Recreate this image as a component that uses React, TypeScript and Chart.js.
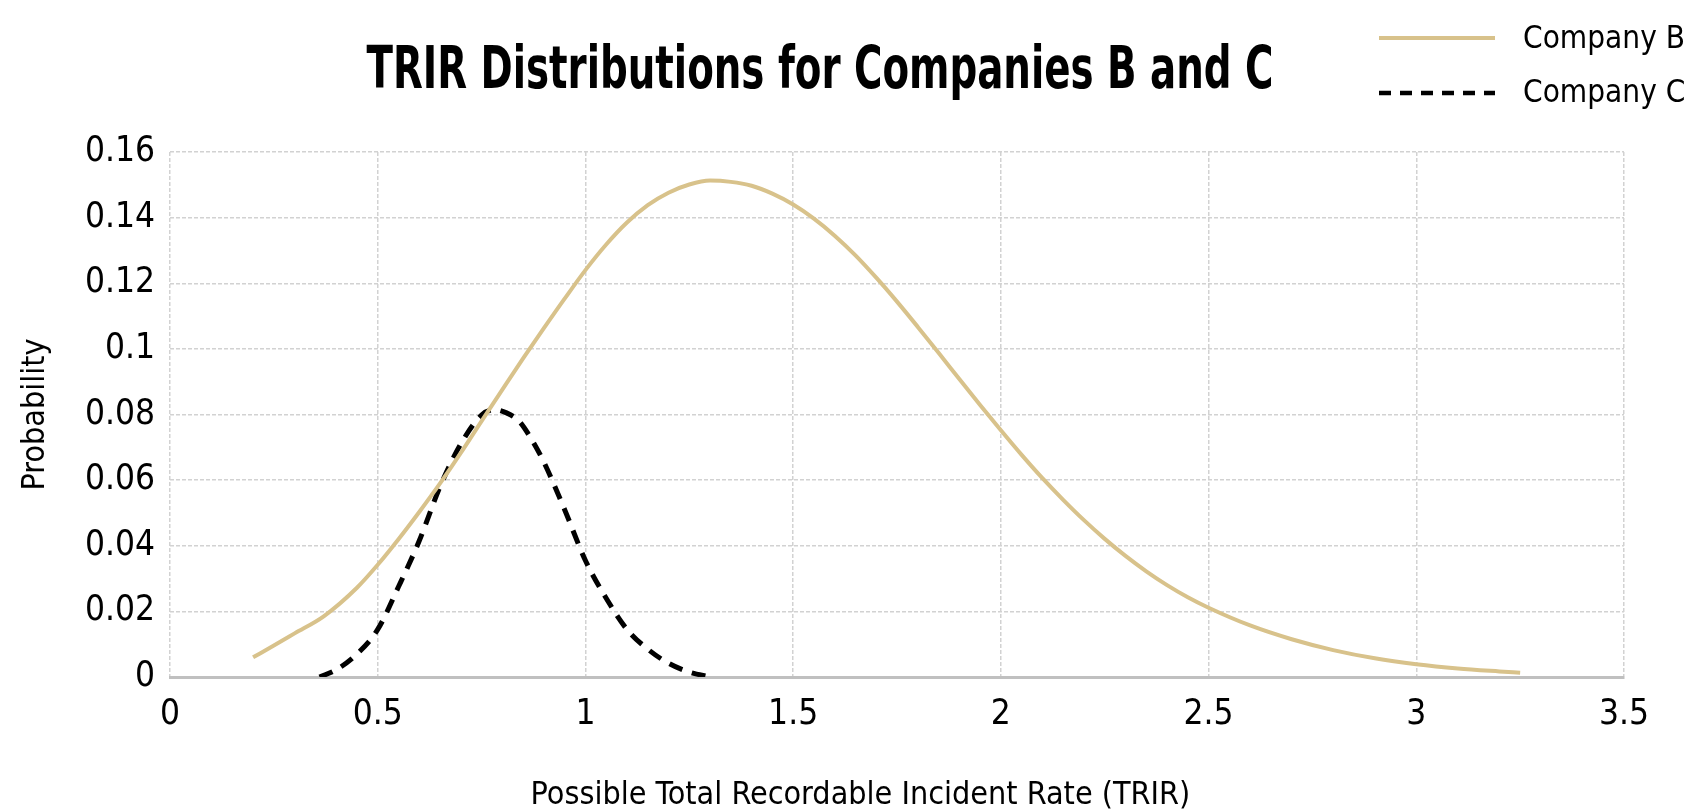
import React, { useEffect, useRef } from "react";
import { Chart, registerables } from "chart.js";

Chart.register(...registerables);

// ---- Data ----
const companyBX = [0.2, 0.25, 0.3, 0.37, 0.45, 0.5, 0.55, 0.6, 0.65, 0.7, 0.75, 0.8, 0.85, 0.9, 0.95, 1.0, 1.05, 1.1, 1.15, 1.2, 1.25, 1.3, 1.35, 1.4, 1.45, 1.5, 1.55, 1.6, 1.65, 1.7, 1.75, 1.8, 1.85, 1.9, 1.95, 2.0, 2.05, 2.1, 2.15, 2.2, 2.25, 2.3, 2.35, 2.4, 2.45, 2.5, 2.6, 2.7, 2.8, 2.9, 3.0, 3.1, 3.2, 3.25];
const companyBY = [0.006, 0.0096, 0.0133, 0.0185, 0.0272, 0.0342, 0.042, 0.0503, 0.059, 0.0683, 0.078, 0.0876, 0.0971, 0.1063, 0.1153, 0.124, 0.1318, 0.1385, 0.1438, 0.1476, 0.1501, 0.1513, 0.1509, 0.1497, 0.1473, 0.144, 0.1397, 0.1345, 0.1285, 0.1217, 0.1144, 0.1067, 0.0988, 0.0908, 0.0829, 0.0752, 0.0677, 0.0606, 0.054, 0.0478, 0.0421, 0.0369, 0.0322, 0.028, 0.0243, 0.0211, 0.0157, 0.0115, 0.0082, 0.0057, 0.0039, 0.0026, 0.0017, 0.0013];

const companyCX = [0.36, 0.4, 0.45, 0.5, 0.55, 0.6, 0.65, 0.7, 0.75, 0.78, 0.81, 0.84, 0.87, 0.9, 0.95, 1.0, 1.05, 1.1, 1.15, 1.2, 1.25, 1.3];
const companyCY = [0.0, 0.0022, 0.007, 0.0145, 0.0275, 0.0415, 0.058, 0.071, 0.0798, 0.0815, 0.0805, 0.078, 0.0725, 0.0655, 0.051, 0.0355, 0.024, 0.0145, 0.0085, 0.0042, 0.0015, 0.0];

const seriesLabels = ["Company B", "Company C"];
const xTickLabels = ["0", "0.5", "1", "1.5", "2", "2.5", "3", "3.5"];
const yTickLabels = ["0", "0.02", "0.04", "0.06", "0.08", "0.1", "0.12", "0.14", "0.16"];

const titleText = "TRIR Distributions for Companies B and C";
const xTitleText = "Possible Total Recordable Incident Rate (TRIR)";
const yTitleText = "Probability";

const FONT = "'Liberation Sans Narrow', 'DejaVu Sans Condensed', 'Roboto Condensed', 'Arial Narrow', sans-serif";
const TAN = "#D8C28B";
const GRID = "#d2d2d2";

// Title and corner legend drawn as canvas text
const textPlugin = {
  id: "titleAndLegend",
  afterDraw(chart: any) {
    const ctx = chart.ctx as CanvasRenderingContext2D;
    // title
    ctx.save();
    ctx.fillStyle = "#000";
    ctx.font = `bold 58px ${FONT}`;
    ctx.textAlign = "center";
    ctx.textBaseline = "alphabetic";
    ctx.fillText(titleText, 820, 88, 907);
    ctx.restore();

    // legend
    const lineY = [38, 93];
    const textY = [48, 101.5];
    const x0 = 1379;
    const x1 = 1495;
    const tx = 1523;
    ctx.save();
    ctx.font = `32px ${FONT}`;
    const refW = ctx.measureText(seriesLabels[0]).width;
    const sx = Math.min(1, 162 / refW);
    ctx.restore();
    chart.data.datasets.forEach((ds: any, i: number) => {
      ctx.save();
      ctx.strokeStyle = ds.borderColor;
      ctx.lineWidth = ds.borderDash ? 4.5 : 4;
      ctx.setLineDash(ds.borderDash ? [12, 9] : []);
      ctx.beginPath();
      ctx.moveTo(x0, lineY[i]);
      ctx.lineTo(x1, lineY[i]);
      ctx.stroke();
      ctx.restore();
      ctx.save();
      ctx.fillStyle = "#000";
      ctx.font = `32px ${FONT}`;
      ctx.textBaseline = "alphabetic";
      ctx.textAlign = "left";
      const w = ctx.measureText(ds.label).width * sx;
      ctx.fillText(ds.label, tx, textY[i], w);
      ctx.restore();
    });
  },
};

export default function App() {
  const canvasRef = useRef<HTMLCanvasElement | null>(null);

  useEffect(() => {
    if (!canvasRef.current) return;
    Chart.defaults.color = "#000";
    Chart.defaults.font.family = FONT;

    const chart = new Chart(canvasRef.current, {
      type: "line",
      data: {
        datasets: [
          {
            label: seriesLabels[0],
            data: companyBX.map((x, i) => ({ x, y: companyBY[i] })),
            borderColor: TAN,
            backgroundColor: TAN,
            borderWidth: 4,
            pointRadius: 0,
            cubicInterpolationMode: "monotone",
            fill: false,
          },
          {
            label: seriesLabels[1],
            data: companyCX.map((x, i) => ({ x, y: companyCY[i] })),
            borderColor: "#000",
            backgroundColor: "#000",
            borderWidth: 5,
            borderDash: [14, 10],
            pointRadius: 0,
            cubicInterpolationMode: "monotone",
            fill: false,
          },
        ],
      },
      options: {
        animation: false,
        responsive: true,
        maintainAspectRatio: false,
        layout: { padding: { left: 8, right: 75, top: 152, bottom: 0 } },
        plugins: {
          legend: { display: false },
          tooltip: { enabled: false },
          title: { display: false },
        },
        scales: {
          x: {
            type: "linear",
            min: 0,
            max: 3.5,
            afterFit: (scale: any) => {
              scale.height = 135;
            },
            ticks: {
              stepSize: 0.5,
              padding: 17,
              font: { size: 35 },
              color: "#000",
              callback: (_v: any, i: number) => xTickLabels[i],
            },
            grid: { color: GRID, lineWidth: 1.5, drawTicks: false, borderDash: [4, 2] } as any,
            border: { display: true, color: "#c0c0c0", width: 3, dash: [4, 2] },
            title: {
              display: true,
              text: xTitleText + "        ",
              color: "#000",
              font: { size: 32, lineHeight: 1 },
              padding: 0,
            },
          },
          y: {
            min: 0,
            max: 0.16,
            afterFit: (scale: any) => {
              scale.width = 162;
            },
            ticks: {
              stepSize: 0.02,
              padding: 15,
              font: { size: 35 },
              color: "#000",
              callback: (_v: any, i: number) => yTickLabels[i],
            },
            grid: { color: GRID, lineWidth: 1.5, drawTicks: false, borderDash: [4, 2] } as any,
            border: { display: false, dash: [4, 2] },
            title: {
              display: true,
              text: yTitleText,
              color: "#000",
              font: { size: 32, lineHeight: 1.2 },
              padding: { top: 8, bottom: 0 },
            },
          },
        },
      } as any,
      plugins: [textPlugin],
    });
    return () => chart.destroy();
  }, []);

  return (
    <div style={{ position: "fixed", left: 0, top: 0, width: "100vw", height: "100vh", background: "#fff" }}>
      <canvas ref={canvasRef} />
    </div>
  );
}
